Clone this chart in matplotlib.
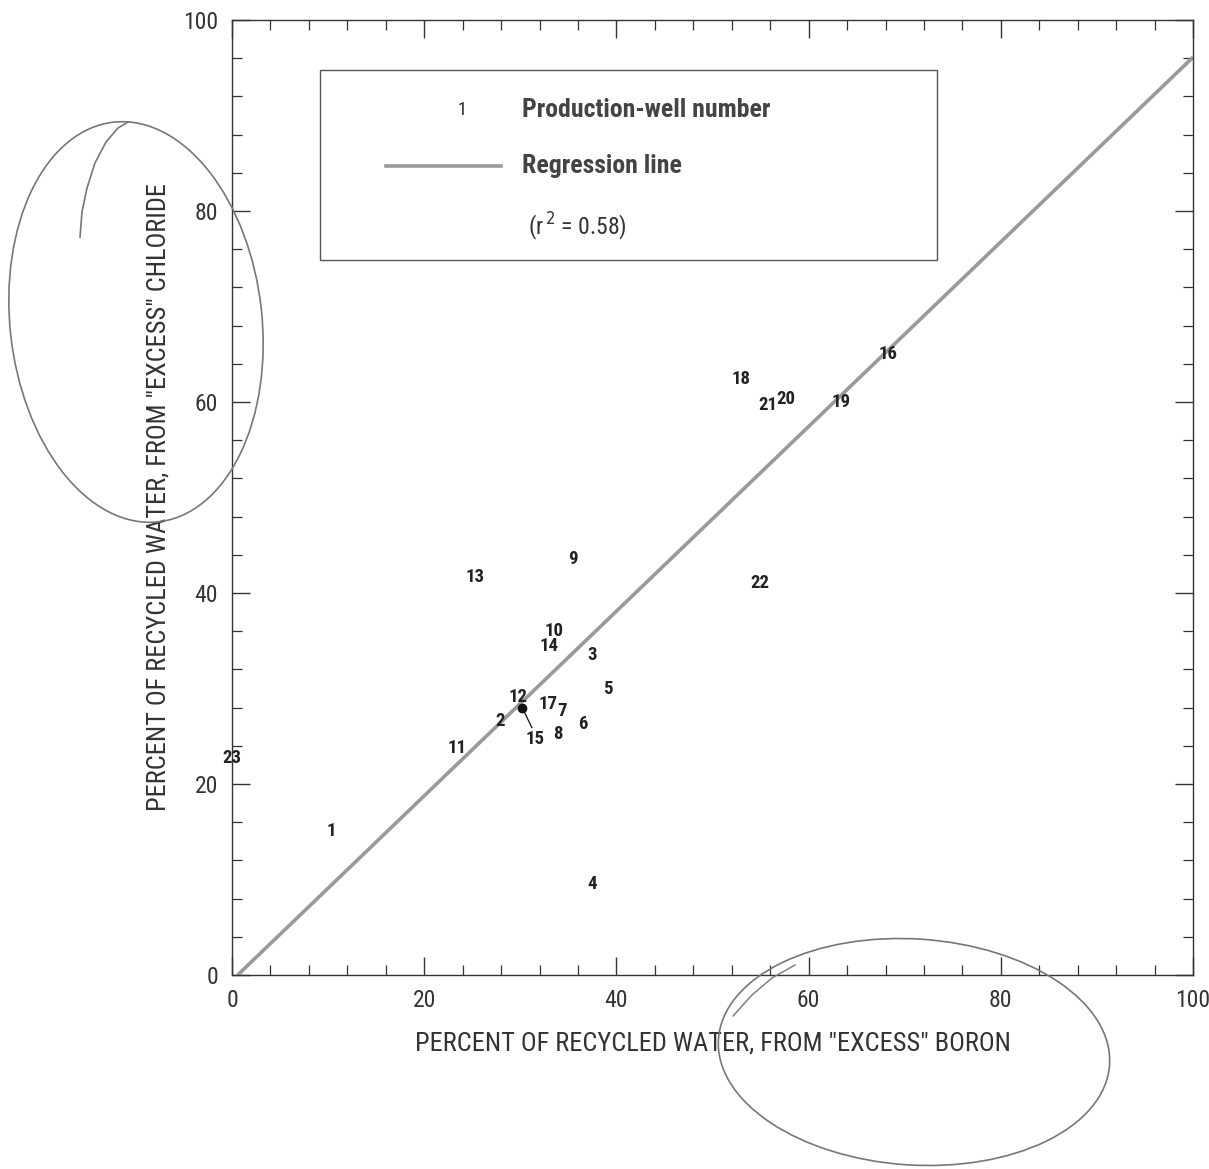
import matplotlib
matplotlib.use("Agg")
import matplotlib.pyplot as plt
from matplotlib.patches import Ellipse, Rectangle
from matplotlib import font_manager
import numpy as np

# ---- data ----
wells = ["1", "2", "3", "4", "5", "6", "7", "8", "9", "10", "11", "12",
         "13", "14", "15", "16", "17", "18", "19", "20", "21", "22", "23"]
boron = [10.3, 27.9, 37.5, 37.5, 39.1, 36.5, 34.4, 33.9, 35.5, 33.5, 23.4, 29.8,
         25.3, 33.0, 31.5, 68.3, 32.9, 53.0, 63.4, 57.6, 55.8, 54.9, 0.0]
chloride = [15.1, 26.6, 33.5, 9.5, 29.9, 26.3, 27.6, 25.2, 43.6, 36.0, 23.8, 29.1,
            41.7, 34.4, 24.7, 65.0, 28.4, 62.4, 60.0, 60.3, 59.7, 41.0, 22.7]
well15_point = (30.2, 28.0)
reg_x = [0.6, 100.0]
reg_y = [0.0, 96.1]
x_ticks = [0, 20, 40, 60, 80, 100]
y_ticks = [0, 20, 40, 60, 80, 100]

# pick a condensed font if one exists
fonts = font_manager.fontManager.ttflist
cond = [f for f in fonts if f.stretch in ("condensed", "semi-condensed", "extra-condensed")
        or "Narrow" in f.name or "Condensed" in f.name]
pref = None
for cand in ["Liberation Sans Narrow", "Roboto Condensed", "Open Sans Condensed", "DejaVu Sans"]:
    if any(f.name == cand for f in cond):
        pref = cand
        break
if pref is None and cond:
    pref = cond[0].name
if pref is None:
    pref = "DejaVu Sans"
plt.rcParams["font.family"] = [pref, "DejaVu Sans"]
plt.rcParams["font.stretch"] = "condensed"

fig = plt.figure(figsize=(12.09, 11.69), dpi=100)
ax = fig.add_axes([0.1919, 0.1660, 0.7949, 0.8169])
ax.set_xlim(0, 100)
ax.set_ylim(0, 100)

txt_color = "#222222"
ax.plot(reg_x, reg_y, color="#9a9a9a", lw=2.6, solid_capstyle="butt", zorder=2)

for w, x, y in zip(wells, boron, chloride):
    ax.text(x, y, w, ha="center", va="center", fontsize=13.5, fontweight="bold",
            color=txt_color, zorder=3)
ax.plot([well15_point[0]], [well15_point[1]], "o", color="#111111", ms=6, zorder=3)
ax.plot([well15_point[0], 31.2], [well15_point[1], 25.9], color="#111111", lw=0.9, zorder=3)

# legend box
ax.add_patch(Rectangle((9.2, 74.9), 64.2, 19.9, fill=False, ec="#555555", lw=1.0, zorder=4))
ax.text(23.9, 90.6, "1", ha="center", va="center", fontsize=13, color=txt_color)
ax.text(30.2, 90.6, "Production-well number", ha="left", va="center",
        fontsize=18.5, fontweight="bold", color="#444444")
ax.plot([16.0, 28.0], [84.7, 84.7], color="#9a9a9a", lw=2.6)
ax.text(30.2, 84.7, "Regression line", ha="left", va="center",
        fontsize=18.5, fontweight="bold", color="#444444")
ax.text(30.8, 78.3, r"(r$^{\,2}$ = 0.58)", ha="left", va="center",
        fontsize=17, color="#333333")

ax.set_xticks(x_ticks)
ax.set_yticks(y_ticks)
ax.set_xticks(np.arange(0, 101, 4), minor=True)
ax.set_yticks(np.arange(0, 101, 4), minor=True)
ax.tick_params(which="both", direction="in", top=True, right=True, color="#333333")
ax.tick_params(which="major", length=13, width=1.0, labelsize=17, pad=10, labelcolor="#333333")
ax.tick_params(which="minor", length=7, width=0.9)
for s in ax.spines.values():
    s.set_linewidth(1.0)
    s.set_color("#333333")

ax.set_xlabel('PERCENT OF RECYCLED WATER, FROM "EXCESS" BORON', fontsize=19,
              color="#333333", labelpad=14)
ax.set_ylabel('PERCENT OF RECYCLED WATER, FROM "EXCESS" CHLORIDE', fontsize=19,
              color="#333333", labelpad=9)

# hand-drawn pencil annotations
pc = "#777777"
fig.patches.append(Ellipse((136 / 1209, 1 - 322 / 1169), 252 / 1209, 402 / 1169, angle=6,
                           transform=fig.transFigure, fill=False, ec=pc, lw=1.2))
fig.patches.append(Ellipse((914 / 1209, 1 - 1052 / 1169), 392 / 1209, 226 / 1169, angle=-4,
                           transform=fig.transFigure, fill=False, ec=pc, lw=1.2))
hx = np.array([80, 82, 87, 95, 106, 118, 128])
hy = np.array([237, 212, 188, 163, 142, 128, 122])
fig.add_artist(plt.Line2D(hx / 1209, 1 - hy / 1169, transform=fig.transFigure, color=pc, lw=1.2))
sx = np.array([733, 752, 772, 795])
sy = np.array([1016, 995, 978, 965])
fig.add_artist(plt.Line2D(sx / 1209, 1 - sy / 1169, transform=fig.transFigure, color=pc, lw=1.0))

fig.savefig("out.png", dpi=100, facecolor="white")
